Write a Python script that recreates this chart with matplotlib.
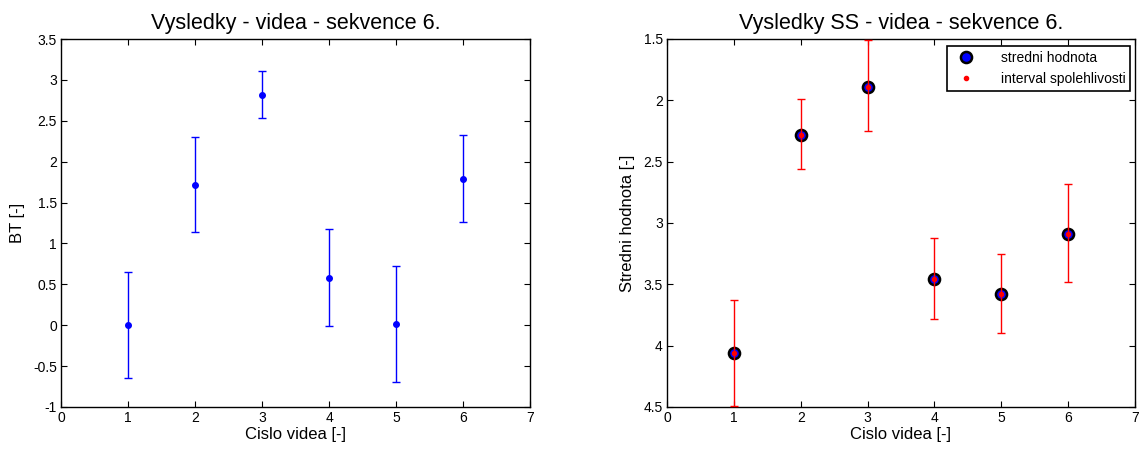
import matplotlib.pyplot as plt
from matplotlib.ticker import FuncFormatter
import numpy as np

plt.rcParams['font.family'] = ['Liberation Sans', 'DejaVu Sans']

# left chart: BT per video
videa = [1, 2, 3, 4, 5, 6]
bt_mean = [0.0, 1.72, 2.81, 0.58, 0.02, 1.79]
bt_low = [-0.65, 1.14, 2.53, -0.01, -0.69, 1.26]
bt_high = [0.65, 2.30, 3.11, 1.18, 0.72, 2.32]

# right chart: SS mean values per video
ss_mean = [4.06, 2.28, 1.89, 3.46, 3.58, 3.09]
ss_low = [3.63, 1.99, 1.51, 3.12, 3.25, 2.68]
ss_high = [4.49, 2.56, 2.25, 3.78, 3.90, 3.48]

fmt = FuncFormatter(lambda v, p: f"{v:g}")


def style_axes(ax):
    ax.tick_params(direction='in', length=4, width=0.8, top=True, right=True,
                   labelsize=10, pad=3)
    for s in ax.spines.values():
        s.set_linewidth(1.0)
    ax.xaxis.set_major_formatter(fmt)
    ax.yaxis.set_major_formatter(fmt)


fig = plt.figure(figsize=(11.41, 4.5), dpi=100)
ax1 = fig.add_axes([61 / 1141, 43 / 450, 469 / 1141, 368 / 450])
ax2 = fig.add_axes([667 / 1141, 43 / 450, 468 / 1141, 368 / 450])

# left
m = np.array(bt_mean)
err = [m - np.array(bt_low), np.array(bt_high) - m]
ax1.errorbar(videa, bt_mean, yerr=err, fmt='.', color='#0000ff', ecolor='#0000ff',
             markersize=8, elinewidth=1.0, capsize=3, capthick=1.0)
ax1.set_xlim(0, 7)
ax1.set_ylim(-1, 3.5)
ax1.set_xticks(range(0, 8))
ax1.set_yticks(np.arange(-1, 3.51, 0.5))
ax1.set_title("Vysledky - videa - sekvence 6.", fontsize=15.5, pad=7)
ax1.set_xlabel("Cislo videa [-]", fontsize=12, labelpad=1)
ax1.set_ylabel("BT [-]", fontsize=12, labelpad=6)
style_axes(ax1)

# right
s = np.array(ss_mean)
err2 = [s - np.array(ss_low), np.array(ss_high) - s]
ax2.plot(videa, ss_mean, 'o', markerfacecolor='#0000ff', markeredgecolor='black',
         markeredgewidth=1.8, markersize=8, label='stredni hodnota', zorder=3)
ax2.errorbar(videa, ss_mean, yerr=err2, fmt='none', ecolor='#ff0000',
             elinewidth=1.0, capsize=3, capthick=1.0, zorder=4)
ax2.plot(videa, ss_mean, '.', color='#ff0000', markersize=6,
         label='interval spolehlivosti', zorder=5)
ax2.set_xlim(0, 7)
ax2.set_ylim(4.5, 1.5)
ax2.set_xticks(range(0, 8))
ax2.set_yticks(np.arange(1.5, 4.51, 0.5))
ax2.set_title("Vysledky SS - videa - sekvence 6.", fontsize=15.5, pad=7)
ax2.set_xlabel("Cislo videa [-]", fontsize=12, labelpad=1)
ax2.set_ylabel("Stredni hodnota [-]", fontsize=12, labelpad=6)
style_axes(ax2)

leg = ax2.legend(loc='upper right', fontsize=10, frameon=True, fancybox=False,
                 edgecolor='black', borderpad=0.35, handletextpad=1.5,
                 bbox_to_anchor=(0.99, 0.98), borderaxespad=0, framealpha=1)
leg.get_frame().set_linewidth(1.2)

fig.savefig("out.png", dpi=100)
